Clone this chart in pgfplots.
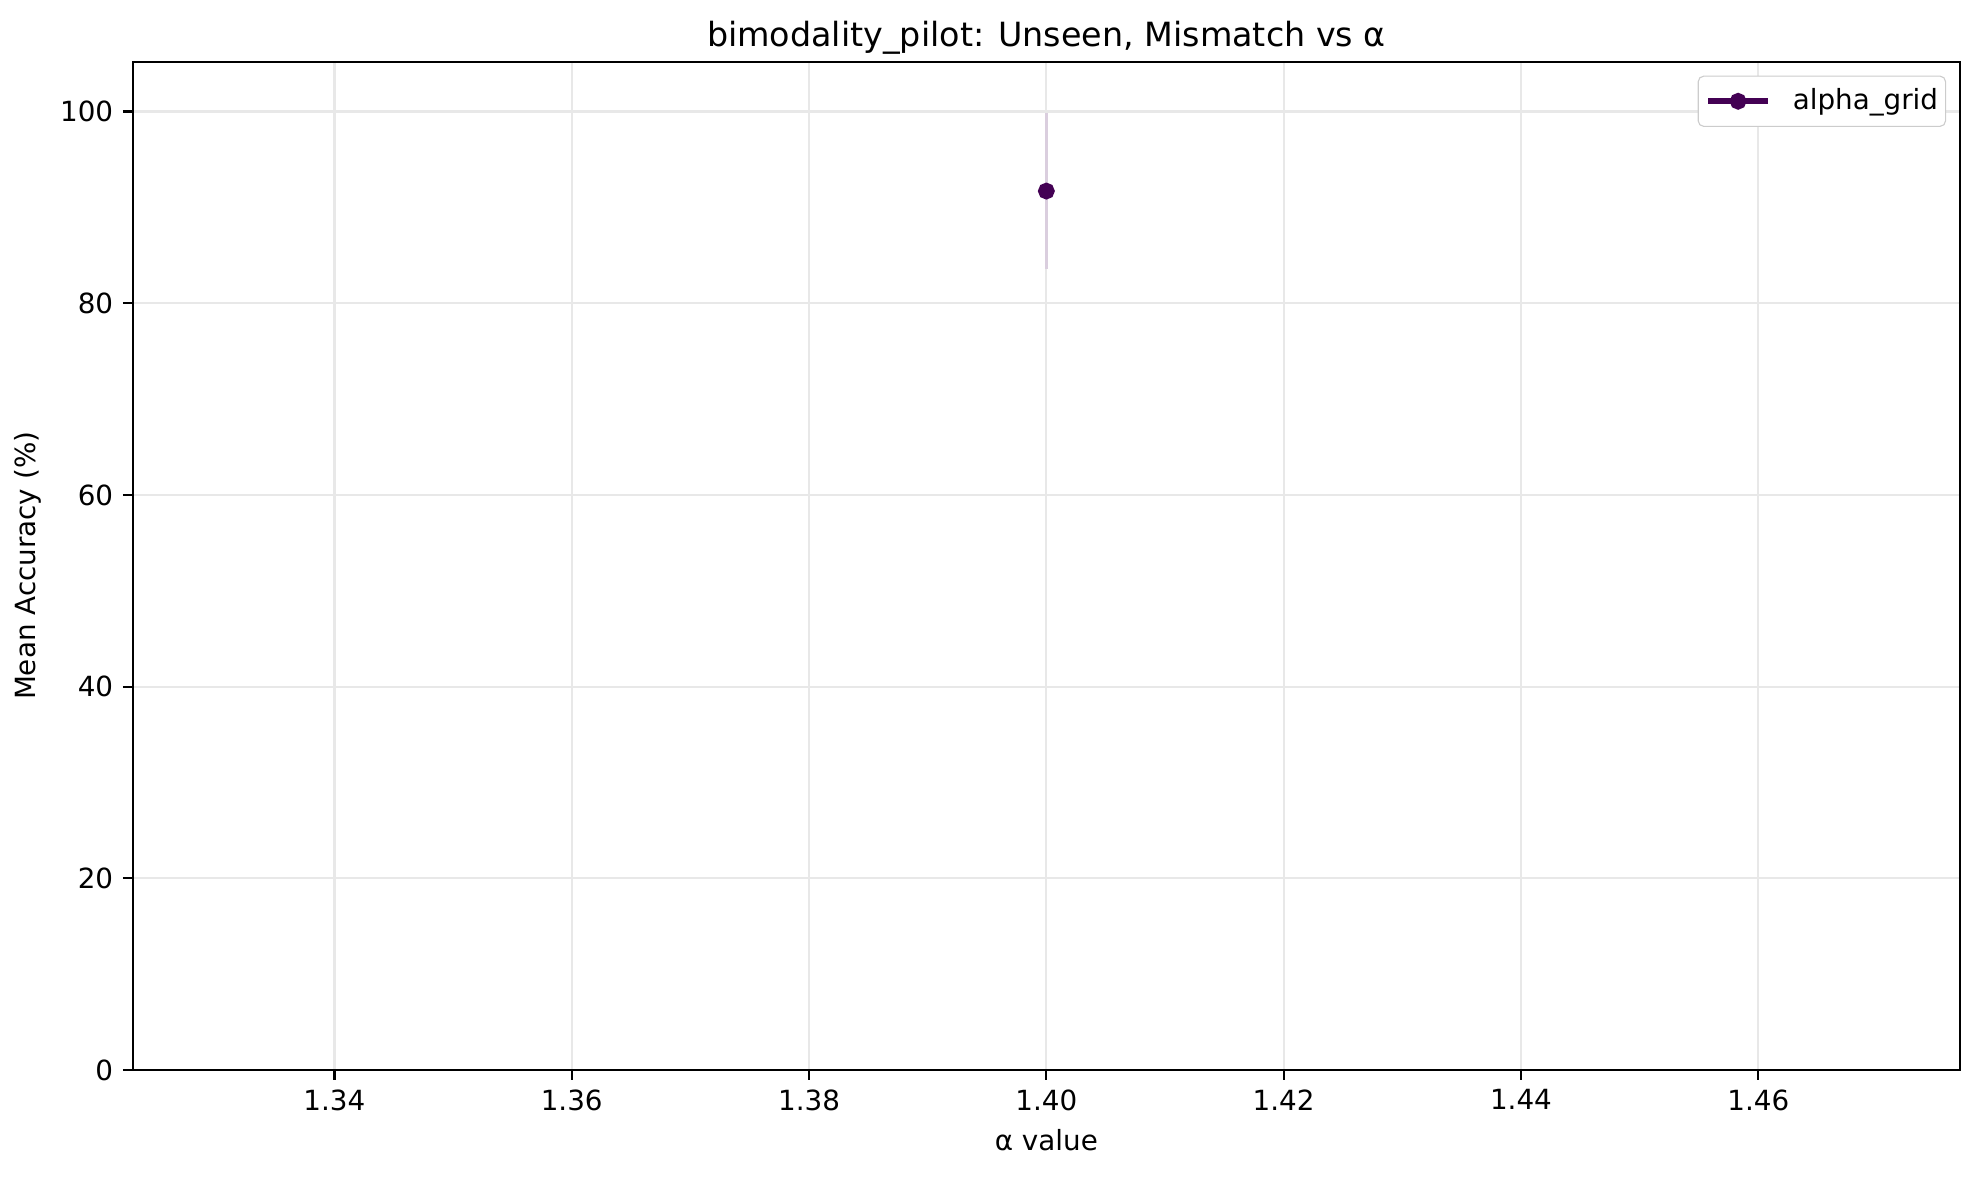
\documentclass[border=0pt]{standalone}
\usepackage{fontspec}
\setmainfont{DejaVu Sans}
\usepackage{pgfplots}
\pgfplotsset{compat=1.18}
\definecolor{vir0}{HTML}{440154}
\definecolor{errc}{RGB}{218,206,222}
\definecolor{gridc}{HTML}{E8E8E8}
\begin{document}
\begin{tikzpicture}
\useasboundingbox (-47.77pt,-38.52pt) rectangle (665pt,385.2pt);
\begin{axis}[
    scale only axis,
    width=657.8pt, height=363pt,
    xmin=1.323, xmax=1.477,
    ymin=0, ymax=105.2,
    xtick={1.34,1.36,1.38,1.40,1.42,1.44,1.46},
    ytick={0,20,40,60,80,100},
    xticklabel style={/pgf/number format/.cd,fixed,fixed zerofill,precision=2},
    /pgf/number format/assume math mode=true,
    tick label style={font=\fontsize{10}{12}\selectfont},
    label style={font=\fontsize{10}{12}\selectfont},
    tick align=outside, tick pos=left,
    major tick length=3.5pt,
    every tick/.style={line width=0.8pt, black},
    axis line style={line width=0.8pt},
    grid=major,
    major grid style={gridc, line width=0.8pt},
    xlabel={α value},
    ylabel={Mean Accuracy (\%)},
    title={bimodality\_pilot: Unseen, Mismatch vs α},
    title style={font=\fontsize{12}{14}\selectfont, yshift=-7pt},
    legend style={at={(rel axis cs:0.9924,0.9862)}, anchor=north east,
        draw={rgb,255:red,204;green,204;blue,204}, rounded corners=2pt,
        font=\fontsize{10}{12}\selectfont, inner xsep=2.7pt, inner ysep=2.5pt,
        column sep=8pt, nodes={inner xsep=0pt}},
    legend cell align=left,
    legend image code/.code={
        \draw[vir0, line width=2pt] (0cm,0cm) -- (0.75cm,0cm);
        \fill[vir0] (0.375cm,0cm) circle (2pt);
    },
]
\addplot[draw=none, forget plot,
    error bars/.cd, y dir=both, y explicit,
    error mark=none,
    error bar style={errc, line width=1pt}]
    coordinates {(1.40,91.7) +- (0,8.1)};
\addplot[vir0, line width=2pt, mark=*, mark size=2pt,
    mark options={fill=vir0, draw=none}]
    coordinates {(1.40,91.7)};
\addlegendentry{alpha\_grid\hspace{1.8pt}}
\end{axis}
\end{tikzpicture}
\end{document}
